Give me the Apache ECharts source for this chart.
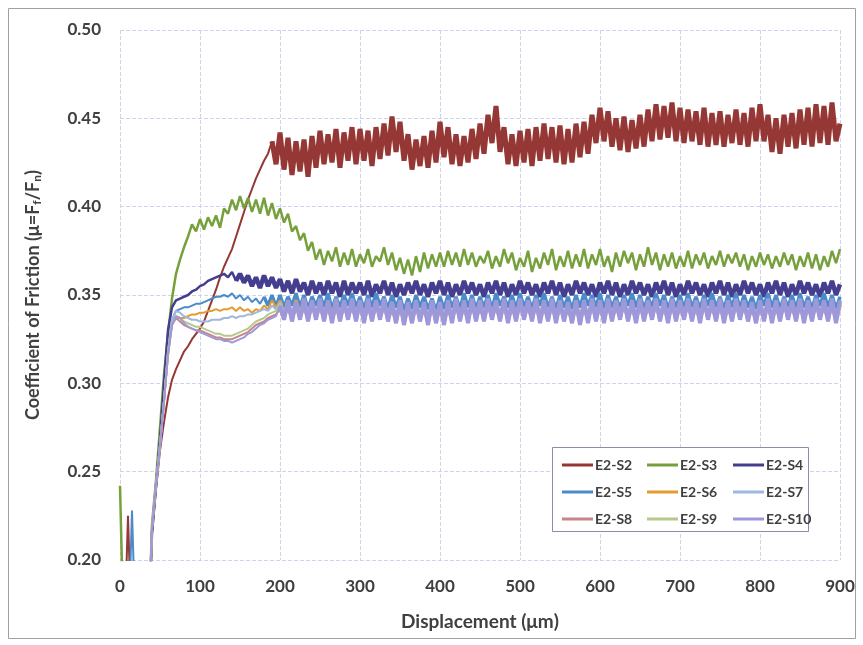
<!DOCTYPE html>
<html>
<head>
<meta charset="utf-8">
<script src="https://cdn.jsdelivr.net/npm/echarts@6/dist/echarts.min.js"></script>
<style>
  html, body { margin: 0; padding: 0; background: #fff; }
  #chart { width: 863px; height: 645px; }
</style>
</head>
<body>
<div id="chart"></div>
<script>
// sample spacing of the friction traces (µm)
var STEP = 5;

var seriesNames = ['E2-S2', 'E2-S3', 'E2-S4', 'E2-S5', 'E2-S6', 'E2-S7', 'E2-S8', 'E2-S9', 'E2-S10'];
var seriesColors = ['#953735', '#76a03c', '#453e8e', '#4a8bc9', '#e59a2e', '#9fb8e0', '#c98488', '#b5c98f', '#9d98db'];

var xTicks = [0, 100, 200, 300, 400, 500, 600, 700, 800, 900];
var yTicks = [0.20, 0.25, 0.30, 0.35, 0.40, 0.45, 0.50];

// coefficient of friction, one value every 5 µm from 0 to 900 µm
var s2 = [
  0.15, 0.15, 0.225, 0.15, 0.15, 0.15, 0.15, 0.15, 0.215, 0.240,
  0.262, 0.278, 0.292, 0.302, 0.308, 0.313, 0.318, 0.321, 0.325, 0.328,
  0.331, 0.335, 0.341, 0.347, 0.353, 0.360, 0.366, 0.371, 0.376, 0.383,
  0.390, 0.397, 0.404, 0.410, 0.416, 0.421, 0.426, 0.430, 0.437, 0.424,
  0.442, 0.421, 0.439, 0.418, 0.437, 0.420, 0.438, 0.417, 0.440, 0.422,
  0.443, 0.424, 0.441, 0.425, 0.444, 0.422, 0.442, 0.426, 0.445, 0.424,
  0.444, 0.426, 0.443, 0.423, 0.445, 0.427, 0.447, 0.429, 0.451, 0.431,
  0.448, 0.426, 0.441, 0.421, 0.438, 0.423, 0.440, 0.422, 0.443, 0.425,
  0.448, 0.428, 0.445, 0.424, 0.441, 0.423, 0.440, 0.425, 0.444, 0.427,
  0.447, 0.430, 0.452, 0.436, 0.457, 0.431, 0.445, 0.424, 0.441, 0.423,
  0.443, 0.425, 0.444, 0.423, 0.445, 0.426, 0.447, 0.427, 0.445, 0.425,
  0.446, 0.424, 0.444, 0.425, 0.447, 0.428, 0.448, 0.430, 0.452, 0.436,
  0.456, 0.437, 0.454, 0.434, 0.450, 0.432, 0.451, 0.431, 0.449, 0.433,
  0.452, 0.434, 0.455, 0.437, 0.458, 0.438, 0.457, 0.439, 0.459, 0.437,
  0.456, 0.436, 0.455, 0.437, 0.454, 0.435, 0.456, 0.434, 0.453, 0.435,
  0.454, 0.434, 0.452, 0.436, 0.455, 0.435, 0.453, 0.434, 0.456, 0.437,
  0.458, 0.437, 0.452, 0.431, 0.450, 0.430, 0.452, 0.434, 0.453, 0.433,
  0.455, 0.435, 0.456, 0.434, 0.458, 0.436, 0.457, 0.435, 0.459, 0.437,
  0.447
];

var s3 = [
  0.242, 0.15, 0.15, 0.15, 0.15, 0.15, 0.15, 0.15, 0.220, 0.245,
  0.275, 0.305, 0.328, 0.348, 0.362, 0.370, 0.377, 0.383, 0.390, 0.386,
  0.393, 0.387, 0.394, 0.389, 0.395, 0.388, 0.399, 0.396, 0.404, 0.398,
  0.406, 0.399, 0.405, 0.397, 0.404, 0.396, 0.405, 0.395, 0.402, 0.393,
  0.399, 0.391, 0.396, 0.386, 0.389, 0.381, 0.385, 0.375, 0.380, 0.370,
  0.376, 0.367, 0.375, 0.369, 0.377, 0.366, 0.374, 0.367, 0.376, 0.366,
  0.373, 0.368, 0.376, 0.366, 0.372, 0.369, 0.377, 0.367, 0.374, 0.364,
  0.371, 0.362, 0.370, 0.361, 0.372, 0.363, 0.374, 0.365, 0.373, 0.366,
  0.374, 0.366, 0.375, 0.367, 0.374, 0.366, 0.376, 0.367, 0.374, 0.366,
  0.372, 0.368, 0.375, 0.365, 0.372, 0.366, 0.376, 0.368, 0.374, 0.364,
  0.371, 0.366, 0.375, 0.363, 0.371, 0.365, 0.374, 0.367, 0.376, 0.364,
  0.372, 0.366, 0.375, 0.365, 0.373, 0.366, 0.376, 0.365, 0.373, 0.367,
  0.376, 0.366, 0.372, 0.363, 0.374, 0.366, 0.375, 0.368, 0.374, 0.364,
  0.373, 0.366, 0.377, 0.367, 0.374, 0.364, 0.373, 0.366, 0.374, 0.365,
  0.372, 0.366, 0.375, 0.365, 0.373, 0.367, 0.374, 0.365, 0.372, 0.367,
  0.375, 0.366, 0.373, 0.368, 0.374, 0.366, 0.373, 0.364, 0.372, 0.366,
  0.374, 0.367, 0.373, 0.365, 0.372, 0.366, 0.374, 0.367, 0.373, 0.364,
  0.372, 0.366, 0.374, 0.365, 0.373, 0.364, 0.372, 0.366, 0.375, 0.368,
  0.376
];

var s4 = [
  0.15, 0.15, 0.15, 0.15, 0.15, 0.15, 0.15, 0.15, 0.215, 0.242,
  0.268, 0.300, 0.330, 0.343, 0.347, 0.348, 0.349, 0.350, 0.352, 0.353,
  0.355, 0.356, 0.358, 0.359, 0.360, 0.361, 0.362, 0.360, 0.363, 0.358,
  0.362, 0.357, 0.361, 0.355, 0.360, 0.354, 0.361, 0.355, 0.360, 0.354,
  0.359, 0.352, 0.358, 0.351, 0.359, 0.352, 0.357, 0.350, 0.358, 0.351,
  0.357, 0.350, 0.358, 0.351, 0.357, 0.349, 0.358, 0.350, 0.357, 0.351,
  0.357, 0.350, 0.358, 0.349, 0.356, 0.351, 0.358, 0.350, 0.357, 0.349,
  0.356, 0.350, 0.357, 0.351, 0.358, 0.350, 0.356, 0.349, 0.357, 0.351,
  0.358, 0.350, 0.357, 0.349, 0.356, 0.350, 0.358, 0.351, 0.357, 0.350,
  0.356, 0.349, 0.357, 0.351, 0.358, 0.350, 0.357, 0.349, 0.356, 0.350,
  0.358, 0.351, 0.357, 0.350, 0.356, 0.349, 0.357, 0.351, 0.358, 0.350,
  0.357, 0.349, 0.356, 0.350, 0.358, 0.351, 0.357, 0.350, 0.356, 0.349,
  0.357, 0.351, 0.358, 0.350, 0.357, 0.349, 0.356, 0.350, 0.358, 0.351,
  0.357, 0.350, 0.356, 0.349, 0.357, 0.351, 0.358, 0.350, 0.357, 0.349,
  0.356, 0.350, 0.358, 0.351, 0.357, 0.350, 0.356, 0.349, 0.357, 0.351,
  0.358, 0.350, 0.357, 0.349, 0.356, 0.350, 0.358, 0.351, 0.357, 0.350,
  0.356, 0.349, 0.357, 0.351, 0.358, 0.350, 0.357, 0.349, 0.356, 0.350,
  0.358, 0.351, 0.357, 0.350, 0.356, 0.349, 0.357, 0.351, 0.358, 0.350,
  0.356
];

var s5 = [
  0.15, 0.15, 0.15, 0.228, 0.15, 0.15, 0.15, 0.15, 0.218, 0.243,
  0.265, 0.290, 0.318, 0.336, 0.341, 0.342, 0.343, 0.343, 0.344, 0.345,
  0.345, 0.346, 0.347, 0.348, 0.349, 0.349, 0.350, 0.349, 0.351, 0.348,
  0.350, 0.347, 0.349, 0.346, 0.348, 0.345, 0.349, 0.344, 0.350, 0.343,
  0.350, 0.343, 0.349, 0.344, 0.351, 0.343, 0.350, 0.342, 0.349, 0.344,
  0.350, 0.343, 0.351, 0.342, 0.349, 0.343, 0.350, 0.344, 0.351, 0.343,
  0.349, 0.342, 0.350, 0.343, 0.351, 0.344, 0.349, 0.342, 0.350, 0.343,
  0.349, 0.341, 0.348, 0.342, 0.350, 0.343, 0.349, 0.342, 0.348, 0.341,
  0.349, 0.342, 0.350, 0.343, 0.349, 0.342, 0.351, 0.343, 0.350, 0.342,
  0.349, 0.343, 0.350, 0.342, 0.351, 0.344, 0.349, 0.343, 0.350, 0.342,
  0.351, 0.343, 0.349, 0.342, 0.350, 0.344, 0.351, 0.343, 0.349, 0.342,
  0.350, 0.343, 0.349, 0.342, 0.350, 0.343, 0.351, 0.344, 0.350, 0.343,
  0.351, 0.342, 0.350, 0.343, 0.349, 0.342, 0.350, 0.344, 0.351, 0.343,
  0.350, 0.342, 0.349, 0.343, 0.351, 0.344, 0.350, 0.342, 0.349, 0.343,
  0.350, 0.342, 0.351, 0.343, 0.349, 0.342, 0.350, 0.344, 0.351, 0.343,
  0.349, 0.342, 0.350, 0.343, 0.351, 0.342, 0.350, 0.343, 0.349, 0.342,
  0.350, 0.344, 0.351, 0.343, 0.350, 0.342, 0.349, 0.343, 0.350, 0.342,
  0.351, 0.343, 0.349, 0.342, 0.350, 0.344, 0.351, 0.343, 0.350, 0.342,
  0.349
];

var s6 = [
  0.15, 0.15, 0.15, 0.15, 0.15, 0.15, 0.15, 0.15, 0.218, 0.243,
  0.265, 0.290, 0.318, 0.334, 0.337, 0.337, 0.337, 0.338, 0.339, 0.339,
  0.340, 0.340, 0.341, 0.341, 0.342, 0.341, 0.342, 0.342, 0.343, 0.341,
  0.343, 0.341, 0.342, 0.340, 0.342, 0.341, 0.344, 0.342, 0.347, 0.343,
  0.347, 0.338, 0.346, 0.337, 0.347, 0.338, 0.348, 0.337, 0.346, 0.338,
  0.347, 0.337, 0.346, 0.338, 0.347, 0.336, 0.346, 0.337, 0.347, 0.338,
  0.346, 0.337, 0.347, 0.336, 0.346, 0.338, 0.347, 0.337, 0.345, 0.336,
  0.346, 0.335, 0.345, 0.336, 0.346, 0.337, 0.345, 0.335, 0.346, 0.336,
  0.345, 0.335, 0.346, 0.336, 0.347, 0.337, 0.346, 0.336, 0.347, 0.338,
  0.346, 0.337, 0.347, 0.338, 0.346, 0.337, 0.347, 0.336, 0.346, 0.337,
  0.347, 0.338, 0.346, 0.337, 0.347, 0.338, 0.346, 0.337, 0.347, 0.336,
  0.346, 0.337, 0.345, 0.336, 0.346, 0.335, 0.346, 0.336, 0.347, 0.337,
  0.346, 0.336, 0.347, 0.337, 0.346, 0.338, 0.347, 0.337, 0.346, 0.336,
  0.347, 0.337, 0.346, 0.338, 0.347, 0.337, 0.346, 0.336, 0.347, 0.337,
  0.346, 0.338, 0.347, 0.337, 0.346, 0.336, 0.347, 0.338, 0.346, 0.337,
  0.347, 0.336, 0.346, 0.337, 0.347, 0.338, 0.346, 0.337, 0.345, 0.336,
  0.346, 0.337, 0.347, 0.336, 0.346, 0.337, 0.347, 0.338, 0.346, 0.337,
  0.347, 0.336, 0.346, 0.337, 0.347, 0.338, 0.346, 0.337, 0.347, 0.336,
  0.346
];

var s7 = [
  0.15, 0.15, 0.15, 0.15, 0.15, 0.15, 0.15, 0.15, 0.218, 0.243,
  0.265, 0.290, 0.318, 0.336, 0.341, 0.340, 0.338, 0.337, 0.336, 0.336,
  0.335, 0.335, 0.335, 0.336, 0.336, 0.336, 0.337, 0.337, 0.338, 0.337,
  0.338, 0.338, 0.339, 0.339, 0.340, 0.341, 0.342, 0.341, 0.344, 0.342,
  0.346, 0.338, 0.345, 0.339, 0.346, 0.338, 0.347, 0.339, 0.346, 0.338,
  0.345, 0.338, 0.346, 0.337, 0.345, 0.338, 0.346, 0.339, 0.347, 0.338,
  0.346, 0.337, 0.345, 0.338, 0.346, 0.339, 0.345, 0.338, 0.346, 0.337,
  0.345, 0.336, 0.344, 0.337, 0.345, 0.338, 0.344, 0.336, 0.345, 0.337,
  0.344, 0.336, 0.345, 0.337, 0.346, 0.338, 0.345, 0.337, 0.346, 0.338,
  0.345, 0.338, 0.346, 0.339, 0.345, 0.338, 0.346, 0.337, 0.345, 0.338,
  0.346, 0.339, 0.345, 0.338, 0.346, 0.337, 0.345, 0.338, 0.346, 0.337,
  0.345, 0.338, 0.344, 0.337, 0.345, 0.336, 0.345, 0.337, 0.346, 0.338,
  0.345, 0.337, 0.346, 0.338, 0.345, 0.339, 0.346, 0.338, 0.345, 0.337,
  0.346, 0.338, 0.345, 0.339, 0.346, 0.338, 0.345, 0.337, 0.346, 0.338,
  0.345, 0.339, 0.346, 0.338, 0.345, 0.337, 0.346, 0.339, 0.345, 0.338,
  0.346, 0.337, 0.345, 0.338, 0.346, 0.339, 0.345, 0.338, 0.344, 0.337,
  0.345, 0.338, 0.346, 0.337, 0.345, 0.338, 0.346, 0.339, 0.345, 0.338,
  0.346, 0.337, 0.345, 0.338, 0.346, 0.339, 0.345, 0.338, 0.346, 0.337,
  0.345
];

var s8 = [
  0.15, 0.15, 0.15, 0.15, 0.15, 0.15, 0.15, 0.15, 0.218, 0.243,
  0.265, 0.290, 0.316, 0.333, 0.337, 0.335, 0.333, 0.332, 0.331, 0.330,
  0.330, 0.329, 0.328, 0.327, 0.326, 0.326, 0.325, 0.325, 0.325, 0.326,
  0.327, 0.328, 0.329, 0.331, 0.333, 0.334, 0.335, 0.337, 0.338, 0.339,
  0.342, 0.337, 0.344, 0.336, 0.345, 0.337, 0.344, 0.336, 0.345, 0.337,
  0.344, 0.336, 0.345, 0.335, 0.344, 0.336, 0.345, 0.337, 0.344, 0.336,
  0.345, 0.335, 0.344, 0.336, 0.345, 0.337, 0.344, 0.336, 0.343, 0.335,
  0.344, 0.334, 0.343, 0.335, 0.344, 0.336, 0.343, 0.334, 0.344, 0.335,
  0.343, 0.334, 0.344, 0.335, 0.345, 0.336, 0.344, 0.335, 0.345, 0.336,
  0.344, 0.336, 0.345, 0.337, 0.344, 0.336, 0.345, 0.335, 0.344, 0.336,
  0.345, 0.337, 0.344, 0.336, 0.345, 0.335, 0.344, 0.336, 0.345, 0.335,
  0.344, 0.336, 0.343, 0.335, 0.344, 0.334, 0.344, 0.335, 0.345, 0.336,
  0.344, 0.335, 0.345, 0.336, 0.344, 0.337, 0.345, 0.336, 0.344, 0.335,
  0.345, 0.336, 0.344, 0.337, 0.345, 0.336, 0.344, 0.335, 0.345, 0.336,
  0.344, 0.337, 0.345, 0.336, 0.344, 0.335, 0.345, 0.337, 0.344, 0.336,
  0.345, 0.335, 0.344, 0.336, 0.345, 0.337, 0.344, 0.336, 0.343, 0.335,
  0.344, 0.336, 0.345, 0.335, 0.344, 0.336, 0.345, 0.337, 0.344, 0.336,
  0.345, 0.335, 0.344, 0.336, 0.345, 0.337, 0.344, 0.336, 0.345, 0.335,
  0.344
];

var s9 = [
  0.15, 0.15, 0.15, 0.15, 0.15, 0.15, 0.15, 0.15, 0.218, 0.243,
  0.265, 0.290, 0.317, 0.334, 0.338, 0.337, 0.335, 0.334, 0.333, 0.332,
  0.332, 0.331, 0.330, 0.329, 0.328, 0.328, 0.327, 0.327, 0.327, 0.328,
  0.329, 0.330, 0.331, 0.333, 0.335, 0.336, 0.337, 0.339, 0.340, 0.341,
  0.345, 0.338, 0.346, 0.337, 0.345, 0.338, 0.346, 0.337, 0.345, 0.338,
  0.346, 0.337, 0.345, 0.336, 0.346, 0.337, 0.345, 0.338, 0.346, 0.337,
  0.345, 0.336, 0.346, 0.337, 0.345, 0.338, 0.346, 0.337, 0.344, 0.336,
  0.345, 0.335, 0.344, 0.336, 0.345, 0.337, 0.344, 0.335, 0.345, 0.336,
  0.344, 0.335, 0.345, 0.336, 0.346, 0.337, 0.345, 0.336, 0.346, 0.337,
  0.345, 0.337, 0.346, 0.338, 0.345, 0.337, 0.346, 0.336, 0.345, 0.337,
  0.346, 0.338, 0.345, 0.337, 0.346, 0.336, 0.345, 0.337, 0.346, 0.336,
  0.345, 0.337, 0.344, 0.336, 0.345, 0.335, 0.345, 0.336, 0.346, 0.337,
  0.345, 0.336, 0.346, 0.337, 0.345, 0.338, 0.346, 0.337, 0.345, 0.336,
  0.346, 0.337, 0.345, 0.338, 0.346, 0.337, 0.345, 0.336, 0.346, 0.337,
  0.345, 0.338, 0.346, 0.337, 0.345, 0.336, 0.346, 0.338, 0.345, 0.337,
  0.346, 0.336, 0.345, 0.337, 0.346, 0.338, 0.345, 0.337, 0.344, 0.336,
  0.345, 0.337, 0.346, 0.336, 0.345, 0.337, 0.346, 0.338, 0.345, 0.337,
  0.346, 0.336, 0.345, 0.337, 0.346, 0.338, 0.345, 0.337, 0.346, 0.336,
  0.345
];

var s10 = [
  0.15, 0.15, 0.15, 0.15, 0.15, 0.15, 0.15, 0.15, 0.218, 0.243,
  0.265, 0.290, 0.316, 0.333, 0.338, 0.337, 0.334, 0.332, 0.331, 0.330,
  0.329, 0.328, 0.327, 0.326, 0.325, 0.325, 0.324, 0.324, 0.323, 0.324,
  0.325, 0.326, 0.328, 0.329, 0.331, 0.333, 0.334, 0.336, 0.337, 0.338,
  0.344, 0.336, 0.347, 0.335, 0.346, 0.336, 0.348, 0.335, 0.347, 0.336,
  0.348, 0.335, 0.347, 0.334, 0.348, 0.335, 0.347, 0.336, 0.348, 0.335,
  0.347, 0.334, 0.348, 0.335, 0.347, 0.336, 0.348, 0.335, 0.346, 0.334,
  0.347, 0.333, 0.346, 0.334, 0.347, 0.335, 0.346, 0.333, 0.347, 0.334,
  0.346, 0.333, 0.347, 0.334, 0.348, 0.335, 0.347, 0.334, 0.348, 0.335,
  0.347, 0.335, 0.348, 0.336, 0.347, 0.335, 0.348, 0.334, 0.347, 0.335,
  0.348, 0.336, 0.347, 0.335, 0.348, 0.334, 0.347, 0.335, 0.348, 0.334,
  0.347, 0.335, 0.346, 0.334, 0.347, 0.333, 0.347, 0.334, 0.348, 0.335,
  0.347, 0.334, 0.348, 0.335, 0.347, 0.336, 0.348, 0.335, 0.347, 0.334,
  0.348, 0.335, 0.347, 0.336, 0.348, 0.335, 0.347, 0.334, 0.348, 0.335,
  0.347, 0.336, 0.348, 0.335, 0.347, 0.334, 0.348, 0.336, 0.347, 0.335,
  0.348, 0.334, 0.347, 0.335, 0.348, 0.336, 0.347, 0.335, 0.346, 0.334,
  0.347, 0.335, 0.348, 0.334, 0.347, 0.335, 0.348, 0.336, 0.347, 0.335,
  0.348, 0.334, 0.347, 0.335, 0.348, 0.336, 0.347, 0.335, 0.348, 0.334,
  0.347
];

var allValues = [s2, s3, s4, s5, s6, s7, s8, s9, s10];

// line width of the smooth start and of the noisy part, and where the noisy part begins (sample index)
var thinWidths = [2, 2.5, 2.5, 2, 2, 2, 2, 2, 2];
var bandWidths = [5, 2.5, 4.5, 3.5, 3.5, 3.5, 3.5, 3.5, 4];
var bandStart = [38, 180, 29, 36, 40, 40, 40, 40, 40];

function toPairs(values, from, to) {
	var out = [];
	for (var i = from; i < to; i++) {
		out.push([i * STEP, values[i]]);
	}
	return out;
}

var FONT = 'Lato';
var TEXT = '#404040';

var series = [];
for (var k = 0; k < seriesNames.length; k++) {
	var vals = allValues[k];
	var cut = Math.min(bandStart[k], vals.length - 1);
	series.push({
		name: seriesNames[k],
		type: 'line',
		data: toPairs(vals, 0, cut + 1),
		showSymbol: false,
		symbol: 'none',
		clip: true,
		lineStyle: { color: seriesColors[k], width: thinWidths[k] },
		itemStyle: { color: seriesColors[k] },
		z: 2 + k
	});
	if (cut < vals.length - 1) {
		series.push({
			name: seriesNames[k],
			type: 'line',
			data: toPairs(vals, cut, vals.length),
			showSymbol: false,
			symbol: 'none',
			clip: true,
			lineStyle: { color: seriesColors[k], width: bandWidths[k], join: 'bevel' },
			itemStyle: { color: seriesColors[k] },
			z: 2 + k
		});
	}
}

function legendColumn(names, left) {
	return {
		data: names,
		orient: 'vertical',
		left: left,
		top: 453,
		itemGap: 13,
		itemWidth: 31,
		itemHeight: 3,
		icon: 'rect',
		selectedMode: false,
		textStyle: { fontFamily: FONT, fontSize: 14, fontWeight: 'bold', color: TEXT, padding: [0, 0, 0, -3] }
	};
}

var option = {
	animation: false,
	backgroundColor: '#ffffff',
	grid: { left: 120, right: 23, top: 30, bottom: 85 },
	xAxis: {
		type: 'value',
		min: 0,
		max: 900,
		interval: 100,
		name: 'Displacement (\u03bcm)',
		nameLocation: 'middle',
		nameGap: 52,
		nameTextStyle: { fontFamily: FONT, fontSize: 19, fontWeight: 'bold', color: TEXT },
		axisLine: { show: false },
		axisTick: { show: false },
		axisLabel: {
			margin: 18,
			fontFamily: FONT, fontSize: 17, fontWeight: 'bold', color: TEXT,
			formatter: function(v) { return xTicks.indexOf(v) >= 0 ? String(v) : ''; }
		},
		splitLine: { show: true, lineStyle: { color: '#cfd3ec', width: 1, type: [4, 2] } }
	},
	yAxis: {
		type: 'value',
		min: 0.20,
		max: 0.50,
		interval: 0.05,
		name: '{a|Coefficient of Friction (\u03bc=F}{s|f}{a|/F}{s|n}{a|)}',
		nameLocation: 'middle',
		nameRotate: 90,
		nameGap: 76,
		nameTextStyle: {
			rich: {
				a: { fontFamily: FONT, fontSize: 18, fontWeight: 'bold', color: TEXT, lineHeight: 22 },
				s: { fontFamily: FONT, fontSize: 12, fontWeight: 'bold', color: TEXT, lineHeight: 22, padding: [8, 0, 0, 0] }
			}
		},
		axisLine: { show: false },
		axisTick: { show: false },
		axisLabel: {
			margin: 19,
			fontFamily: FONT, fontSize: 17, fontWeight: 'bold', color: TEXT,
			formatter: function(v) {
				for (var i = 0; i < yTicks.length; i++) {
					if (Math.abs(yTicks[i] - v) < 1e-6) return yTicks[i].toFixed(2);
				}
				return '';
			}
		},
		splitLine: { show: true, lineStyle: { color: '#cfd3ec', width: 1, type: [4, 2] } }
	},
	legend: [
		legendColumn(['E2-S2', 'E2-S5', 'E2-S8'], 557),
		legendColumn(['E2-S3', 'E2-S6', 'E2-S9'], 642),
		legendColumn(['E2-S4', 'E2-S7', 'E2-S10'], 728)
	],
	graphic: [
		{
			type: 'rect',
			z: 3,
			shape: { x: 552.5, y: 447.5, width: 256, height: 84 },
			style: { fill: '#ffffff', stroke: '#8c8ca6', lineWidth: 1 }
		},
		{
			type: 'rect',
			z: 1,
			silent: true,
			shape: { x: 8.5, y: 8.5, width: 847, height: 630 },
			style: { fill: 'none', stroke: '#a0a0a8', lineWidth: 1 }
		}
	],
	series: series
};

var chart = echarts.init(document.getElementById('chart'));
chart.setOption(option);
</script>
</body>
</html>
